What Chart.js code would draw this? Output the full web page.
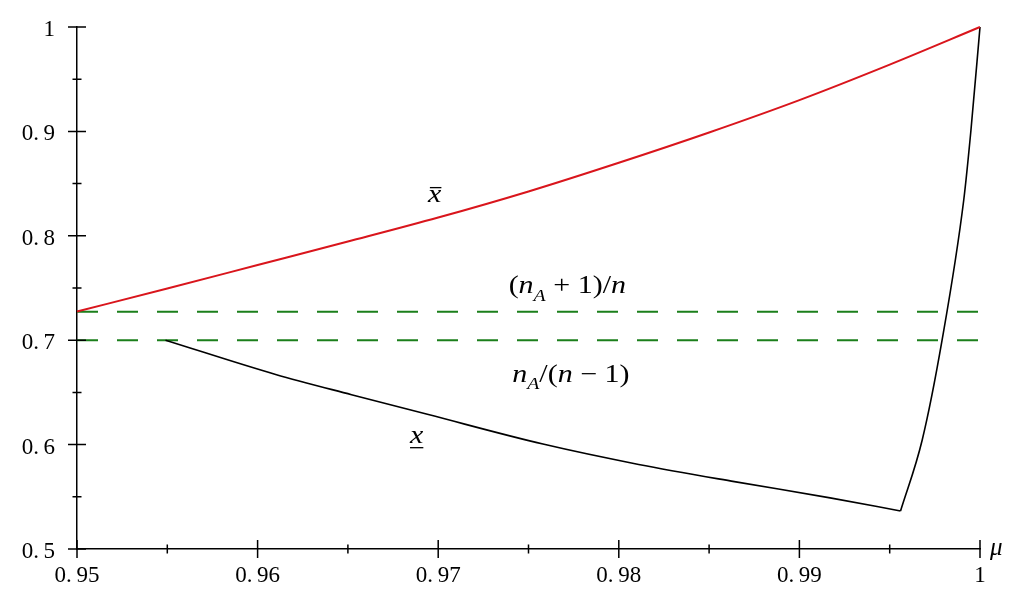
<!DOCTYPE html>
<html>
<head>
<meta charset="utf-8">
<script src="https://cdn.jsdelivr.net/npm/chart.js@4/dist/chart.umd.min.js"></script>
<style>
html,body{margin:0;padding:0;background:#fff;}
#wrap{width:1024px;height:598px;}
</style>
</head>
<body>
<div id="wrap"><canvas id="plot" width="1024" height="598"></canvas></div>
<script>
// upper curve (x bar)
const muBar = [0.95, 0.955, 0.96, 0.965, 0.97, 0.975, 0.98, 0.985, 0.99, 0.995, 1.0];
const xBar  = [0.7275, 0.7495, 0.772, 0.7945, 0.8175, 0.8425, 0.870, 0.899, 0.930, 0.964, 1.0];

// lower curve (x underline): falling branch, then the steep rise to 1
const muFall = [0.9549, 0.961, 0.9652, 0.9694, 0.9758, 0.9811, 0.9864, 0.9917, 0.9956];
const xFall  = [0.7, 0.6672, 0.6478, 0.6290, 0.6005, 0.5810, 0.5645, 0.5490, 0.5364];
const muRise = [0.9956, 0.9968, 0.9979, 0.9991, 0.9995, 1.0];
const xRise  = [0.5364, 0.6044, 0.7, 0.8343, 0.9013, 1.0];

// dashed levels
const levelHi = 0.7273;  // (nA+1)/n
const levelLo = 0.7;     // nA/(n-1)

const xMajor = [0.95, 0.96, 0.97, 0.98, 0.99, 1];
const xMinor = [0.955, 0.965, 0.975, 0.985, 0.995];
const xLabels = ["0.\u200995", "0.\u200996", "0.\u200997", "0.\u200998", "0.\u200999", "1"];
const yMajor = [0.5, 0.6, 0.7, 0.8, 0.9, 1];
const yMinor = [0.55, 0.65, 0.75, 0.85, 0.95];
const yLabels = ["0.\u20095", "0.\u20096", "0.\u20097", "0.\u20098", "0.\u20099", "1"];

function pairs(xs, ys){
    return xs.map((v,i)=>({x:v, y:ys[i]}));
}

const serif = '"Liberation Serif"';

// tick marks that cross the axis lines
const axisTicks = {
    id:"axisTicks",
    afterDatasetsDraw(chart){
        const {ctx, chartArea, scales} = chart;
        ctx.save();
        ctx.strokeStyle = "#000";
        ctx.lineWidth = 1.5;
        ctx.beginPath();
        const L = chartArea.left, B = chartArea.bottom;
        xMajor.forEach(v=>{const p=scales.x.getPixelForValue(v); ctx.moveTo(p,B-9); ctx.lineTo(p,B+9);});
        xMinor.forEach(v=>{const p=scales.x.getPixelForValue(v); ctx.moveTo(p,B-4.5); ctx.lineTo(p,B+4.5);});
        yMajor.forEach(v=>{const p=scales.y.getPixelForValue(v); ctx.moveTo(L-9,p); ctx.lineTo(L+9,p);});
        yMinor.forEach(v=>{const p=scales.y.getPixelForValue(v); ctx.moveTo(L-4.5,p); ctx.lineTo(L+4.5,p);});
        ctx.stroke();
        ctx.restore();
    }
};

// math labels: runs of [text, italic, subscript]
const notes = [
    {x:0.96944, y:0.8324, runs:[["x",1,0]], deco:"bar"},
    {x:0.97390, y:0.7452, runs:[["(",0,0],["n",1,0],["A",1,1],[" + 1)/",0,0],["n",1,0]]},
    {x:0.97410, y:0.66,   runs:[["n",1,0],["A",1,1],["/(",0,0],["n",1,0],[" \u2212 1)",0,0]]},
    {x:0.96844, y:0.6015, runs:[["x",1,0]], deco:"under"},
    {x:1.00055, y:0.4943, runs:[["\u03bc",1,0]], plain:true}
];

const mathLabels = {
    id:"mathLabels",
    afterDraw(chart){
        const {ctx, scales} = chart;
        const size = 25;
        notes.forEach(n=>{
            const px = scales.x.getPixelForValue(n.x);
            const py = scales.y.getPixelForValue(n.y);
            ctx.save();
            ctx.translate(px, py);
            if(!n.plain) ctx.scale(1.2, 1);
            ctx.fillStyle = "#000";
            ctx.textBaseline = "alphabetic";
            let cx = 0;
            n.runs.forEach(r=>{
                const sz = r[2] ? size*0.66 : size;
                ctx.font = (r[1] ? "italic " : "") + sz + "px " + serif;
                ctx.fillText(r[0], cx, r[2] ? size*0.3 : 0);
                cx += ctx.measureText(r[0]).width;
            });
            if(n.deco==="bar") ctx.fillRect(1.5, -size*0.6, cx-1.5, 1.3);
            if(n.deco==="under") ctx.fillRect(0, 4, cx, 1.3);
            ctx.restore();
        });
    }
};

const chart = new Chart(document.getElementById("plot"), {
    type:"scatter",
    data:{datasets:[
        {data:pairs(muBar,xBar), borderColor:"#d9151c", borderWidth:2, cubicInterpolationMode:"monotone"},
        {data:pairs(muFall,xFall), borderColor:"#000", borderWidth:1.6, cubicInterpolationMode:"monotone"},
        {data:pairs(muRise,xRise), borderColor:"#000", borderWidth:1.6, cubicInterpolationMode:"monotone"},
        {data:[{x:0.95,y:levelHi},{x:1,y:levelHi}], borderColor:"#1b7f1b", borderWidth:2, borderDash:[21,19]},
        {data:[{x:0.95,y:levelLo},{x:1,y:levelLo}], borderColor:"#1b7f1b", borderWidth:2, borderDash:[21,19]}
    ].map(d=>Object.assign({showLine:true, pointRadius:0, fill:false}, d))},
    options:{
        responsive:false,
        animation:false,
        clip:false,
        layout:{padding:{top:27, right:44, left:0, bottom:0}},
        plugins:{legend:{display:false}, tooltip:{enabled:false}},
        scales:{
            x:{
                type:"linear", min:0.95, max:1,
                afterFit(s){ s.height = 49; s.paddingLeft = 0; s.paddingRight = 0; },
                afterBuildTicks(s){ s.ticks = xMajor.map(v=>({value:v})); },
                grid:{display:false, drawTicks:false},
                border:{color:"#000", width:1.5},
                ticks:{padding:13, color:"#000", maxRotation:0, autoSkip:false,
                       font:{family:serif, size:23},
                       callback:(v,i)=>xLabels[i]}
            },
            y:{
                type:"linear", min:0.5, max:1,
                afterFit(s){ s.width = 77; s.paddingTop = 0; s.paddingBottom = 0; },
                afterBuildTicks(s){ s.ticks = yMajor.map(v=>({value:v})); },
                grid:{display:false, drawTicks:false},
                border:{color:"#000", width:1.5},
                ticks:{padding:22, color:"#000", labelOffset:3, autoSkip:false,
                       font:{family:serif, size:23},
                       callback:(v,i)=>yLabels[i]}
            }
        }
    },
    plugins:[axisTicks, mathLabels]
});
</script>
</body>
</html>
